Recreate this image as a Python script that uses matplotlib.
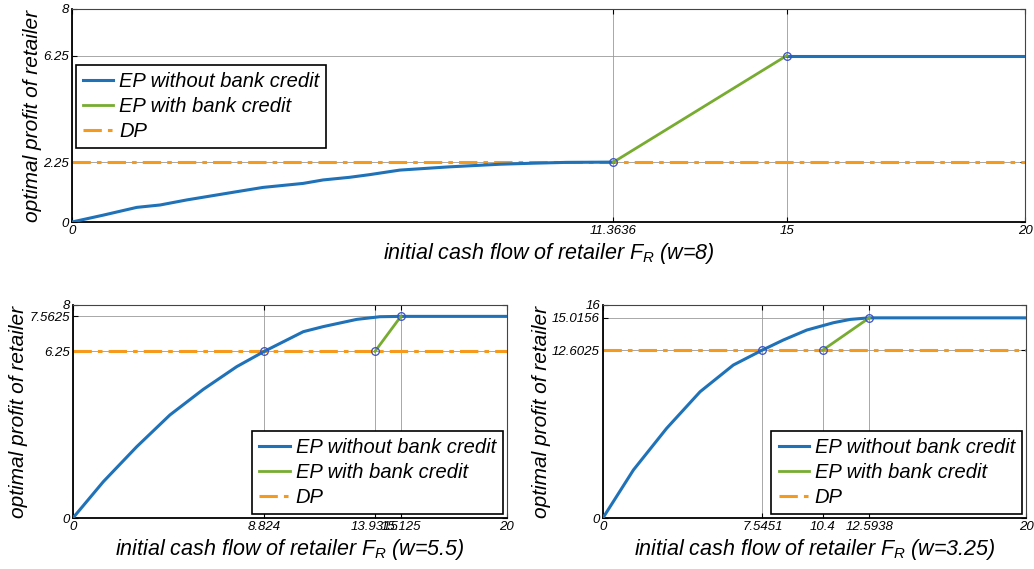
import matplotlib
matplotlib.use("Agg")
import matplotlib.pyplot as plt

plt.rcParams['font.family'] = ['Liberation Sans', 'DejaVu Sans']
plt.rcParams['font.style'] = 'italic'
plt.rcParams['mathtext.fontset'] = 'custom'
plt.rcParams['mathtext.it'] = 'Liberation Sans:italic'
plt.rcParams['mathtext.rm'] = 'Liberation Sans:italic'

# colours (MATLAB-ish)
c_blue = '#1f72b8'
c_green = '#77ac30'
c_orange = '#f59a1c'

# ---- top panel (w=8) ----
top_blue_x = [0, 0.66, 1.36, 1.85, 2.41, 3.46, 4.01, 4.85, 5.27, 5.83, 6.25, 6.88, 7.9, 8.98, 9.7, 10.38, 11.3636]
top_blue_y = [0, 0.26, 0.55, 0.64, 0.83, 1.14, 1.30, 1.45, 1.58, 1.68, 1.78, 1.95, 2.07, 2.17, 2.21, 2.24, 2.25]
top_flat_x = [15, 20]
top_flat_y = [6.25, 6.25]
top_green_x = [11.3636, 15]
top_green_y = [2.25, 6.25]
top_dp = 2.25
top_xticks = [0, 11.3636, 15, 20]
top_xlabels = ['0', '11.3636', '15', '20']
top_yticks = [0, 2.25, 6.25, 8]
top_ylabels = ['0', '2.25', '6.25', '8']

# ---- bottom left (w=5.5) ----
bl_blue_x = [0, 1.41, 2.95, 4.48, 6.02, 7.56, 8.824, 10.63, 11.55, 13.09, 14.16, 15.125, 20]
bl_blue_y = [0, 1.37, 2.68, 3.87, 4.83, 5.68, 6.25, 6.99, 7.18, 7.45, 7.55, 7.5625, 7.5625]
bl_green_x = [13.9315, 15.125]
bl_green_y = [6.25, 7.5625]
bl_dp = 6.25
bl_xticks = [0, 8.824, 13.9315, 15.125, 20]
bl_xlabels = ['0', '8.824', '13.9315', '15.125', '20']
bl_yticks = [0, 6.25, 7.5625, 8]
bl_ylabels = ['0', '6.25', '7.5625', '8']

# ---- bottom right (w=3.25) ----
br_blue_x = [0, 1.45, 3.02, 4.60, 6.17, 7.5451, 8.54, 9.64, 10.9, 11.7, 12.5938, 20]
br_blue_y = [0, 3.62, 6.74, 9.48, 11.48, 12.6025, 13.36, 14.1, 14.65, 14.9, 15.0156, 15.0156]
br_green_x = [10.4, 12.5938]
br_green_y = [12.6025, 15.0156]
br_dp = 12.6025
br_xticks = [0, 7.5451, 10.4, 12.5938, 20]
br_xlabels = ['0', '7.5451', '10.4', '12.5938', '20']
br_yticks = [0, 12.6025, 15.0156, 16]
br_ylabels = ['0', '12.6025', '15.0156', '16']

fig = plt.figure(figsize=(10.34, 5.69), dpi=100)
ax_top = fig.add_axes([0.0696, 0.6098, 0.9217, 0.3744])
ax_bl = fig.add_axes([0.0703, 0.0891, 0.4197, 0.3754])
ax_br = fig.add_axes([0.5829, 0.0891, 0.4094, 0.3754])

dash = (0, (6, 2, 1.5, 2))


def draw(ax, segs, green_x, green_y, dp, ymax, marks, xt, xl, yt, yl, wlabel, leg_loc, leg_anchor):
    for sx, sy in segs:
        ax.plot(sx, sy, color=c_blue, lw=2.2, zorder=3, solid_joinstyle='round')
    ax.plot(green_x, green_y, color=c_green, lw=2.0, zorder=3)
    ax.plot([0, 20], [dp, dp], color=c_orange, lw=2.2, ls=dash, zorder=2)
    # legend proxies
    h1, = ax.plot([], [], color=c_blue, lw=2.2, label='EP without bank credit')
    h2, = ax.plot([], [], color=c_green, lw=2.0, label='EP with bank credit')
    h3, = ax.plot([], [], color=c_orange, lw=2.2, ls=dash, label='DP')
    mx = [m[0] for m in marks]
    my = [m[1] for m in marks]
    ax.plot(mx, my, 'o', mfc='none', mec='#3a4fc4', ms=5.5, mew=0.9, zorder=4)
    ax.set_xlim(0, 20)
    ax.set_ylim(0, ymax)
    ax.set_xticks(xt)
    ax.set_xticklabels(xl, fontsize=9.5)
    ax.set_yticks(yt)
    ax.set_yticklabels(yl, fontsize=9.5)
    ax.grid(True, color='#9a9a9a', lw=0.6)
    ax.tick_params(direction='in', length=3.5, width=0.8, top=True, right=True, pad=2)
    for s in ['left', 'bottom']:
        ax.spines[s].set_linewidth(1.3)
    for s in ['top', 'right']:
        ax.spines[s].set_linewidth(0.8)
        ax.spines[s].set_color('#444444')
    ax.set_xlabel('initial cash flow of retailer $F_R$ (w=%s)' % wlabel, fontsize=15.5, labelpad=3)
    ax.set_ylabel('optimal profit of retailer', fontsize=15, labelpad=1)
    leg = ax.legend(handles=[h1, h2, h3], loc=leg_loc, bbox_to_anchor=leg_anchor,
                    borderaxespad=0, fontsize=14.5, fancybox=False, framealpha=1,
                    edgecolor='black', handlelength=1.5, handletextpad=0.3,
                    labelspacing=0.3, borderpad=0.35)
    leg.get_frame().set_linewidth(1.2)
    leg.set_zorder(5)


draw(ax_top, [(top_blue_x, top_blue_y), (top_flat_x, top_flat_y)], top_green_x, top_green_y,
     top_dp, 8, [(11.3636, 2.25), (15, 6.25)], top_xticks, top_xlabels, top_yticks, top_ylabels,
     '8', 'upper left', (0.004, 0.737))
draw(ax_bl, [(bl_blue_x, bl_blue_y)], bl_green_x, bl_green_y, bl_dp, 8,
     [(8.824, 6.25), (13.9315, 6.25), (15.125, 7.5625)], bl_xticks, bl_xlabels, bl_yticks, bl_ylabels,
     '5.5', 'lower right', (0.9915, 0.02))
draw(ax_br, [(br_blue_x, br_blue_y)], br_green_x, br_green_y, br_dp, 16,
     [(7.5451, 12.6025), (10.4, 12.6025), (12.5938, 15.0156)], br_xticks, br_xlabels, br_yticks, br_ylabels,
     '3.25', 'lower right', (0.9906, 0.02))

fig.savefig('out.png', dpi=100)
